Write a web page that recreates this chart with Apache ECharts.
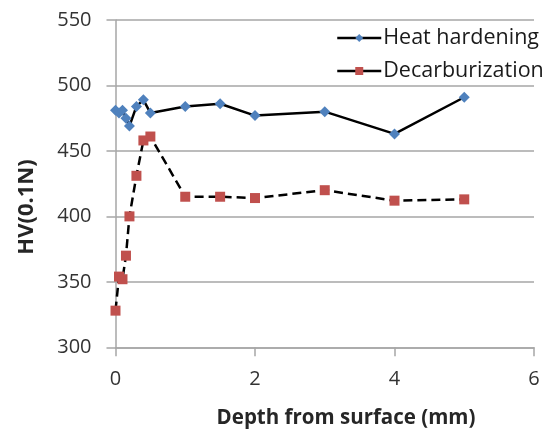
<!DOCTYPE html>
<html>
<head>
<meta charset="utf-8">
<script src="https://cdn.jsdelivr.net/npm/echarts@6/dist/echarts.min.js"></script>
<style>html,body{margin:0;padding:0;background:#fff}#c{width:551px;height:433px}</style>
</head>
<body>
<div id="c"></div>
<script>
var depthHeat = [0, 0.05, 0.1, 0.15, 0.2, 0.3, 0.4, 0.5, 1, 1.5, 2, 3, 4, 5];
var heatHardening = [481, 479, 481, 475, 469, 484, 489, 479, 484, 486, 477, 480, 463, 491];
var depthDecarb = [0, 0.05, 0.1, 0.15, 0.2, 0.3, 0.4, 0.5, 1, 1.5, 2, 3, 4, 5];
var decarburization = [328, 354, 352, 370, 400, 431, 458, 461, 415, 415, 414, 420, 412, 413];
var seriesNames = ['Heat hardening', 'Decarburization'];
var xTitle = 'Depth from surface (mm)';
var yTitle = 'HV(0.1N)';

function pairs(xs, ys) { return xs.map(function (x, i) { return [x, ys[i]]; }); }

var font = 'Open Sans';
var chart = echarts.init(document.getElementById('c'));
chart.setOption({
  animation: false,
  backgroundColor: '#fff',
  grid: { left: 115.5, right: 17, top: 20, bottom: 85.7, containLabel: false },
  legend: {
    orient: 'vertical', left: 331, top: 22, itemWidth: 44, itemHeight: 10, itemGap: 11,
    textStyle: { fontFamily: font, fontSize: 21.5, color: '#1a1a1a', padding: [0, 0, 0, -3] },
    data: [
      { name: seriesNames[0], lineStyle: { type: 'solid', color: '#000', width: 2.5 } },
      { name: seriesNames[1], lineStyle: { type: 'solid', color: '#000', width: 2.5 } }
    ]
  },
  xAxis: {
    type: 'value', min: 0, max: 6, interval: 2,
    axisLine: { show: true, lineStyle: { color: '#a6a6a6', width: 1.5 } },
    axisTick: { show: true, length: 9, lineStyle: { color: '#a6a6a6', width: 1.5 } },
    splitLine: { show: false },
    axisLabel: { margin: 22, fontFamily: font, fontSize: 20, color: '#333' }
  },
  yAxis: {
    type: 'value', min: 300, max: 550, interval: 50,
    axisLine: { show: true, lineStyle: { color: '#a6a6a6', width: 1.5 } },
    axisTick: { show: true, length: 9, lineStyle: { color: '#a6a6a6', width: 1.5 } },
    splitLine: { show: true, lineStyle: { color: '#a6a6a6', width: 1.5 } },
    axisLabel: { margin: 24, fontFamily: font, fontSize: 20, color: '#333' }
  },
  graphic: [
    { type: 'text', x: 346, y: 418, style: { text: xTitle, fontFamily: font, fontSize: 20.5, fontWeight: 'bold', fill: '#262626', align: 'center', verticalAlign: 'middle' } },
    { type: 'text', x: 27, y: 207, rotation: Math.PI / 2, style: { text: yTitle, fontFamily: font, fontSize: 22, fontWeight: 'bold', fill: '#262626', align: 'center', verticalAlign: 'middle' } }
  ],
  series: [
    {
      name: seriesNames[0], type: 'line', data: pairs(depthHeat, heatHardening),
      symbol: 'diamond', symbolSize: 11,
      itemStyle: { color: '#4F81BD' },
      lineStyle: { color: '#000', width: 2.5, type: 'solid' },
      z: 3
    },
    {
      name: seriesNames[1], type: 'line', data: pairs(depthDecarb, decarburization),
      symbol: 'rect', symbolSize: 10,
      itemStyle: { color: '#C0504D' },
      lineStyle: { color: '#000', width: 2.5, type: [9, 5] },
      z: 2
    }
  ]
});
</script>
</body>
</html>
